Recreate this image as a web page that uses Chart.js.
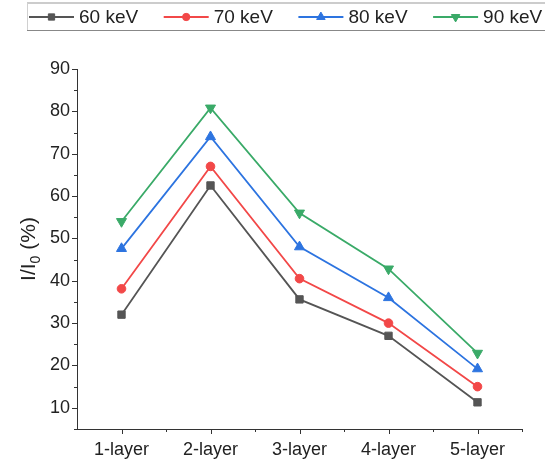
<!DOCTYPE html>
<html>
<head>
<meta charset="utf-8">
<script src="https://cdn.jsdelivr.net/npm/chart.js@4.4.1/dist/chart.umd.min.js"></script>
<style>
  html, body { margin: 0; padding: 0; background: #fff; }
  #wrap { width: 545px; height: 461px; position: relative; }
</style>
</head>
<body>
<div id="wrap"><canvas id="chart" width="545" height="461"></canvas></div>
<script>
// --- data ---
const layers = ['1-layer', '2-layer', '3-layer', '4-layer', '5-layer'];
const seriesNames = ['60 keV', '70 keV', '80 keV', '90 keV'];
const kev60 = [32.0, 62.5, 35.6, 27.0, 11.3];
const kev70 = [38.1, 67.0, 40.5, 30.0, 15.0];
const kev80 = [47.6, 74.0, 48.0, 36.0, 19.2];
const kev90 = [54.0, 80.8, 56.0, 42.8, 22.9];
const yTicks = [10, 20, 30, 40, 50, 60, 70, 80, 90];

const FONT = '"Liberation Sans", Arial, sans-serif';
const AXIS_COLOR = '#333333';

const styles = [
    { color: '#555555', point: 'rect', radius: 5.2, rotation: 0 },
    { color: '#f24848', point: 'circle', radius: 4.3, rotation: 0 },
    { color: '#2d74e0', point: 'triangle', radius: 5.8, rotation: 0 },
    { color: '#3aaa68', point: 'triangle', radius: 5.8, rotation: 180 }
];

const datasets = [kev60, kev70, kev80, kev90].map((vals, i) => ({
    label: seriesNames[i],
    data: vals,
    borderColor: styles[i].color,
    backgroundColor: styles[i].color,
    borderWidth: 1.8,
    pointStyle: styles[i].point,
    pointRadius: styles[i].radius,
    pointHoverRadius: styles[i].radius,
    pointRotation: styles[i].rotation,
    pointBorderWidth: 1,
    tension: 0
}));

// ticks (major + minor) drawn outward, Origin style
const ticksPlugin = {
    id: 'originTicks',
    afterDraw(chart) {
        const { ctx, scales: { x, y }, chartArea } = chart;
        ctx.save();
        ctx.strokeStyle = AXIS_COLOR;
        ctx.lineWidth = 1;
        ctx.beginPath();
        // y axis: majors at 10s, minors at 5s
        for (let v = 5; v <= 90; v += 5) {
            const py = Math.round(y.getPixelForValue(v)) + 0.5;
            const len = (v % 10 === 0) ? 5 : 3;
            ctx.moveTo(chartArea.left, py);
            ctx.lineTo(chartArea.left - len, py);
        }
        // x axis: majors at categories, minors at boundaries
        const step = x.getPixelForValue(1) - x.getPixelForValue(0);
        layers.forEach((_, i) => {
            const px = Math.round(x.getPixelForValue(i)) + 0.5;
            ctx.moveTo(px, chartArea.bottom);
            ctx.lineTo(px, chartArea.bottom + 5);
            const pm = Math.round(x.getPixelForValue(i) + step / 2) + 0.5;
            ctx.moveTo(pm, chartArea.bottom);
            ctx.lineTo(pm, chartArea.bottom + 3);
        });
        ctx.stroke();

        // y axis title with subscript
        ctx.fillStyle = '#222';
        ctx.textBaseline = 'alphabetic';
        const big = '21px ' + FONT, small = '14px ' + FONT;
        ctx.font = big;
        const w1 = ctx.measureText('I/I').width;
        const w3 = ctx.measureText(' (%)').width;
        ctx.font = small;
        const w2 = ctx.measureText('0').width;
        const total = w1 + w2 + w3;
        ctx.translate(35, (chartArea.top + chartArea.bottom) / 2);
        ctx.rotate(-Math.PI / 2);
        let cx = -total / 2;
        ctx.font = big;
        ctx.fillText('I/I', cx, 0);
        cx += w1;
        ctx.font = small;
        ctx.fillText('0', cx, 5);
        cx += w2;
        ctx.font = big;
        ctx.fillText(' (%)', cx, 0);
        ctx.restore();
    }
};

// boxed legend across the top
const legendPlugin = {
    id: 'topLegend',
    afterDraw(chart) {
        const { ctx } = chart;
        ctx.save();
        // frame
        ctx.strokeStyle = '#cccccc';
        ctx.lineWidth = 2;
        ctx.beginPath();
        ctx.moveTo(27, 3);
        ctx.lineTo(545, 3);
        ctx.stroke();
        ctx.lineWidth = 1;
        ctx.strokeStyle = '#d0d0d0';
        ctx.beginPath();
        ctx.moveTo(27.5, 3);
        ctx.lineTo(27.5, 30);
        ctx.stroke();
        ctx.strokeStyle = '#888888';
        ctx.beginPath();
        ctx.moveTo(27, 30.5);
        ctx.lineTo(545, 30.5);
        ctx.stroke();

        const yMid = 17;
        ctx.font = '19px ' + FONT;
        ctx.textBaseline = 'middle';
        chart.data.datasets.forEach((ds, i) => {
            const x0 = 29 + i * 134.7;
            ctx.strokeStyle = ds.borderColor;
            ctx.lineWidth = 1.8;
            ctx.beginPath();
            ctx.moveTo(x0, yMid);
            ctx.lineTo(x0 + 45, yMid);
            ctx.stroke();
            ctx.fillStyle = ds.backgroundColor;
            ctx.lineWidth = 1;
            Chart.helpers.drawPoint(ctx, {
                pointStyle: ds.pointStyle,
                rotation: ds.pointRotation,
                radius: ds.pointRadius * 0.85,
                borderWidth: 1
            }, x0 + 22.5, yMid);
            ctx.fillStyle = '#222';
            ctx.fillText(ds.label, x0 + 50, yMid + 1);
        });
        ctx.restore();
    }
};

new Chart(document.getElementById('chart'), {
    type: 'line',
    data: { labels: layers, datasets: datasets },
    options: {
        responsive: false,
        animation: false,
        devicePixelRatio: 1,
        layout: { padding: { top: 69, right: 23, bottom: 0, left: 0 } },
        plugins: {
            legend: { display: false },
            tooltip: { enabled: false }
        },
        scales: {
            x: {
                type: 'category',
                offset: true,
                grid: { display: false, drawTicks: false },
                border: { display: true, color: AXIS_COLOR, width: 1 },
                ticks: {
                    color: '#222',
                    font: { family: FONT, size: 18 },
                    padding: 10,
                    maxRotation: 0,
                    autoSkip: false
                },
                afterFit(scale) { scale.height = 32; }
            },
            y: {
                min: 5,
                max: 90,
                grid: { display: false, drawTicks: false },
                border: { display: true, color: AXIS_COLOR, width: 1 },
                ticks: {
                    stepSize: 5,
                    autoSkip: false,
                    color: '#222',
                    font: { family: FONT, size: 18 },
                    padding: 7,
                    callback: (v) => yTicks.includes(v) ? String(v) : ''
                },
                afterFit(scale) { scale.width = 77; }
            }
        }
    },
    plugins: [ticksPlugin, legendPlugin]
});
</script>
</body>
</html>
